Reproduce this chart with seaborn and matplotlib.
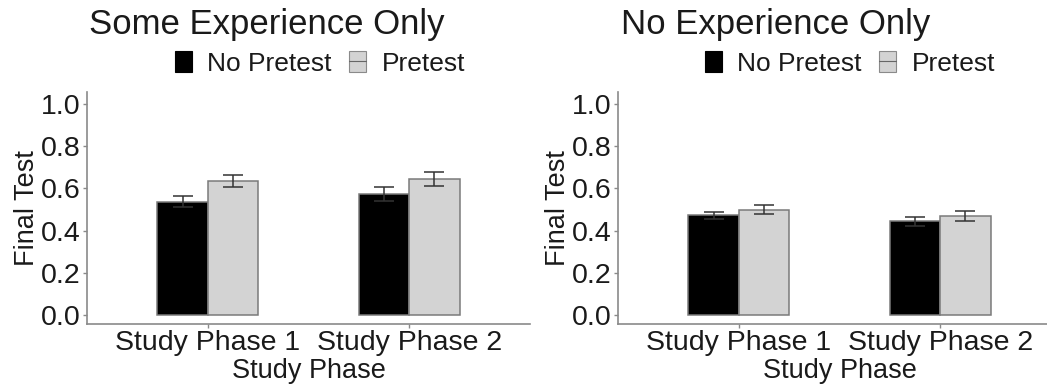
import matplotlib
matplotlib.use("Agg")
import matplotlib.pyplot as plt
import seaborn as sns
import pandas as pd
from matplotlib.patches import Patch
from matplotlib.lines import Line2D
from matplotlib.legend_handler import HandlerTuple

# ---------------- data ----------------
phases = ["Study Phase 1", "Study Phase 2"]
groups = ["No Pretest", "Pretest"]
panel_titles = ["Some Experience Only", "No Experience Only"]

some_no_pretest = [0.537, 0.575]
some_no_pretest_se = [0.027, 0.033]
some_pretest = [0.636, 0.644]
some_pretest_se = [0.029, 0.034]

none_no_pretest = [0.472, 0.444]
none_no_pretest_se = [0.018, 0.022]
none_pretest = [0.499, 0.469]
none_pretest_se = [0.021, 0.025]

y_ticks = [0.0, 0.2, 0.4, 0.6, 0.8, 1.0]
x_label = "Study Phase"
y_label = "Final Test"

# ---------------- style ----------------
sns.set_theme(style="white")
plt.rcParams["font.family"] = ["Liberation Sans", "DejaVu Sans"]
TXT = "#1a1a1a"
AXC = "#8a8a8a"
palette = {"No Pretest": "black", "Pretest": "#d3d3d3"}

fig = plt.figure(figsize=(10.47, 3.85), dpi=100)
ax_l = fig.add_axes([87 / 1047, 61 / 385, 443 / 1047, 232 / 385])
ax_r = fig.add_axes([618 / 1047, 61 / 385, 443 / 1047, 232 / 385])

panels = [
    (ax_l, panel_titles[0], some_no_pretest, some_no_pretest_se, some_pretest, some_pretest_se, 89 / 1047, 320 / 1047),
    (ax_r, panel_titles[1], none_no_pretest, none_no_pretest_se, none_pretest, none_pretest_se, 621 / 1047, 850 / 1047),
]

for ax, title, nop, nop_se, pre, pre_se, tx, lx in panels:
    df = pd.DataFrame({
        "phase": phases * 2,
        "group": [groups[0]] * 2 + [groups[1]] * 2,
        "value": nop + pre,
        "se": nop_se + pre_se,
    })
    sns.barplot(data=df, x="phase", y="value", hue="group", order=phases,
                hue_order=groups, palette=palette, width=0.5, errorbar=None,
                edgecolor="#7a7a7a", linewidth=1.1, ax=ax, legend=False,
                saturation=1)
    ses = [nop_se, pre_se]
    vals = [nop, pre]
    for cont, v, s in zip(ax.containers, vals, ses):
        for bar, vv, ss in zip(cont, v, s):
            ax.errorbar(bar.get_x() + bar.get_width() / 2, vv, yerr=ss,
                        fmt="none", ecolor="#333333", elinewidth=1.1,
                        capsize=7.2, capthick=1.1, zorder=5)

    ax.set_xlim(-0.6, 1.6)
    ax.set_ylim(-0.044, 1.058)
    ax.set_yticks(y_ticks)
    ax.set_yticklabels([f"{t:.1f}" for t in y_ticks])
    for sp in ["top", "right"]:
        ax.spines[sp].set_visible(False)
    for sp in ["left", "bottom"]:
        ax.spines[sp].set_color(AXC)
        ax.spines[sp].set_linewidth(1.2)
    ax.tick_params(axis="both", which="both", length=3, width=1, color=AXC,
                   labelsize=20.5, labelcolor=TXT, pad=1.5, direction="out",
                   bottom=True, left=True)
    ax.set_xlabel(x_label, fontsize=19.5, color=TXT)
    ax.set_ylabel(y_label, fontsize=19.5, color=TXT)
    ax.xaxis.set_label_coords(0.5, -0.148)
    ax.yaxis.set_label_coords(-0.106, 0.5)

    fig.text(tx, 1 - 34 / 385, title, fontsize=25, color=TXT,
             ha="left", va="baseline")

    h_no = Patch(facecolor=palette["No Pretest"], edgecolor="black", linewidth=0.8)
    h_pre_p = Patch(facecolor=palette["Pretest"], edgecolor="#8a8a8a", linewidth=0.8)
    h_pre_l = Line2D([0], [0], color="#666666", linewidth=0.8)
    leg = fig.legend([h_no, (h_pre_p, h_pre_l)], groups,
                     handler_map={tuple: HandlerTuple(ndivide=1, pad=0)},
                     loc="center", bbox_to_anchor=(lx, 1 - 63.5 / 385),
                     ncol=2, frameon=False, fontsize=19,
                     handlelength=0.64, handleheight=0.87,
                     handletextpad=0.6, columnspacing=0.65,
                     borderpad=0, borderaxespad=0)
    for t in leg.get_texts():
        t.set_color(TXT)

fig.savefig("out.png", dpi=100)
